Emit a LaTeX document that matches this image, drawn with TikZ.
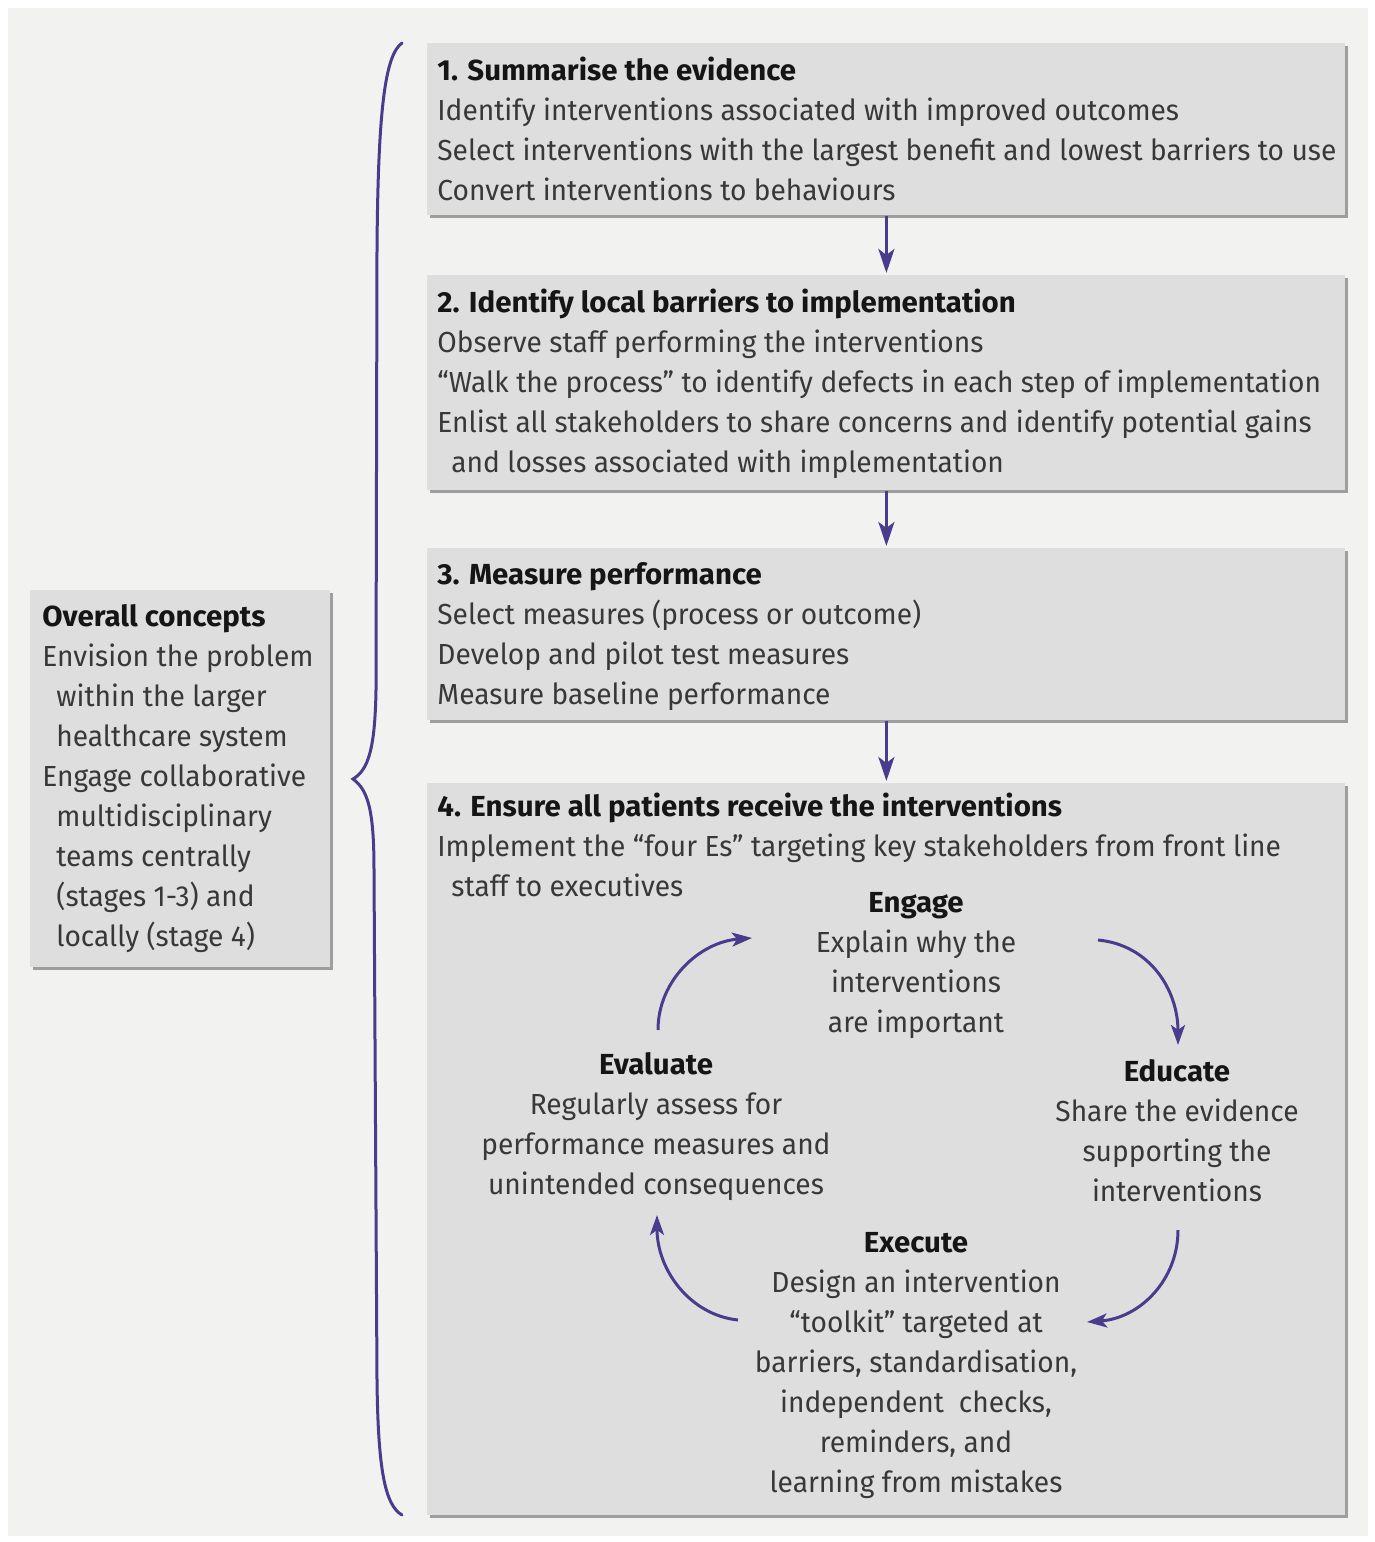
\documentclass[tikz,border=0pt]{standalone}
\usepackage{fontspec}
\setmainfont{Fira Sans}[FakeStretch=0.97]
\newfontfamily\headfont{Fira Sans}[FakeStretch=1.015]
\usetikzlibrary{arrows.meta,shadows}

\definecolor{panelgray}{HTML}{F2F2F1}
\definecolor{boxgray}{HTML}{DEDEDF}
\definecolor{shadegray}{HTML}{9E9E9E}
\definecolor{bodytext}{HTML}{383838}
\definecolor{headtext}{HTML}{151515}
\definecolor{linkviolet}{HTML}{4A3C8C}

\newcommand{\boxhead}[1]{{\headfont\bfseries\color{headtext}#1}}

\tikzset{
  box/.style={fill=boxgray, anchor=north west, inner sep=0pt,
    drop shadow={shadow xshift=1.5pt, shadow yshift=-1.5pt, fill=shadegray, opacity=1}},
  txt/.style={anchor=north west, align=left, inner sep=0pt, text=bodytext,
    font=\fontsize{14.5}{20}\selectfont, execute at begin node=\strut},
  ctxt/.style={txt, anchor=north, align=center},
  flow/.style={draw=linkviolet, line width=1.5pt, shorten >=1pt,
    -{Stealth[length=12pt,width=8pt,inset=3pt]}},
  turn/.style={draw=linkviolet, line width=1.5pt,
    -{Stealth[length=10pt,width=7pt,inset=2.5pt]}}
}

\begin{document}
\begin{tikzpicture}[x=0.5pt,y=-0.5pt]
  % background
  \fill[white] (0,0) rectangle (1375,1542);
  \fill[panelgray] (8,8) rectangle (1368,1536);

  % boxes
  \node[box, minimum width=459pt, minimum height=86pt] (b1) at (427,43) {};
  \node[box, minimum width=459pt, minimum height=107.5pt] (b2) at (427,275) {};
  \node[box, minimum width=459pt, minimum height=86pt] (b3) at (427,548) {};
  \node[box, minimum width=459pt, minimum height=366pt] (b4) at (427,783) {};
  \node[box, minimum width=150pt, minimum height=188.5pt] (bl) at (30,590) {};

  % brace
  \draw[linkviolet, line width=1.5pt, line cap=round]
    (402,43) .. controls (385,55) and (378,110) .. (377,250) -- (376,690)
    .. controls (375,750) and (368,770) .. (353,779)
    .. controls (368,790) and (374,810) .. (374,870) -- (377,1380)
    .. controls (378,1470) and (385,1505) .. (402,1515);

  % texts
  \node[txt] (t1) at (437,57) {\boxhead{1. Summarise the evidence}\\
    Identify interventions associated with improved outcomes\\
    Select interventions with the largest benefit and lowest barriers to use\\
    Convert interventions to behaviours};
  \node[txt] (t2) at (437,289) {\boxhead{2. Identify local barriers to implementation}\\
    Observe staff performing the interventions\\
    “Walk the process” to identify defects in each step of implementation\\
    Enlist all stakeholders to share concerns and identify potential gains\\
    \hspace*{7pt}and losses associated with implementation};
  \node[txt] (t3) at (437,562) {\boxhead{3. Measure performance}\\
    Select measures (process or outcome)\\
    Develop and pilot test measures\\
    Measure baseline performance};
  \node[txt] (t4) at (437,793) {\boxhead{4. Ensure all patients receive the interventions}\\
    Implement the “four Es” targeting key stakeholders from front line\\
    \hspace*{7pt}staff to executives};
  \node[txt] (tl) at (42,604) {\boxhead{Overall concepts}\\
    Envision the problem\\
    \hspace*{7pt}within the larger\\
    \hspace*{7pt}healthcare system\\
    Engage collaborative\\
    \hspace*{7pt}multidisciplinary\\
    \hspace*{7pt}teams centrally\\
    \hspace*{7pt}(stages 1-3) and\\
    \hspace*{7pt}locally (stage 4)};

  % four Es
  \node[ctxt] (engage) at (916,892) {\boxhead{Engage}\\
    Explain why the\\ interventions\\ are important};
  \node[ctxt] (educate) at (1177,1059) {\boxhead{Educate}\\
    Share the evidence\\ supporting the\\ interventions};
  \node[ctxt] (evaluate) at (656,1052) {\boxhead{Evaluate}\\
    Regularly assess for\\ performance measures and\\ unintended consequences};
  \node[ctxt] (execute) at (916,1232) {\boxhead{Execute}\\
    Design an intervention\\ “toolkit” targeted at\\ barriers, standardisation,\\
    independent\ \ checks,\\ reminders, and\\ learning from mistakes};

  % steps
  \draw[flow] (b1.south) -- (b2.north);
  \draw[flow] (b2.south) -- (b3.north);
  \draw[flow] (b3.south) -- (b4.north);

  % cycle
  \coordinate (evend) at (658,1030);
  \coordinate (enin) at (752,938);
  \coordinate (enout) at (1098,940);
  \coordinate (edin) at (1178,1045);
  \coordinate (edout) at (1178,1230);
  \coordinate (exin) at (1087,1322);
  \coordinate (exout) at (738,1320);
  \coordinate (evin) at (657,1215);
  \draw[turn] (evend) .. controls (658,980) and (700,942) .. (enin);
  \draw[turn] (enout) .. controls (1150,945) and (1178,990) .. (edin);
  \draw[turn] (edout) .. controls (1178,1280) and (1140,1318) .. (exin);
  \draw[turn] (exout) .. controls (690,1315) and (657,1270) .. (evin);
\end{tikzpicture}
\end{document}
